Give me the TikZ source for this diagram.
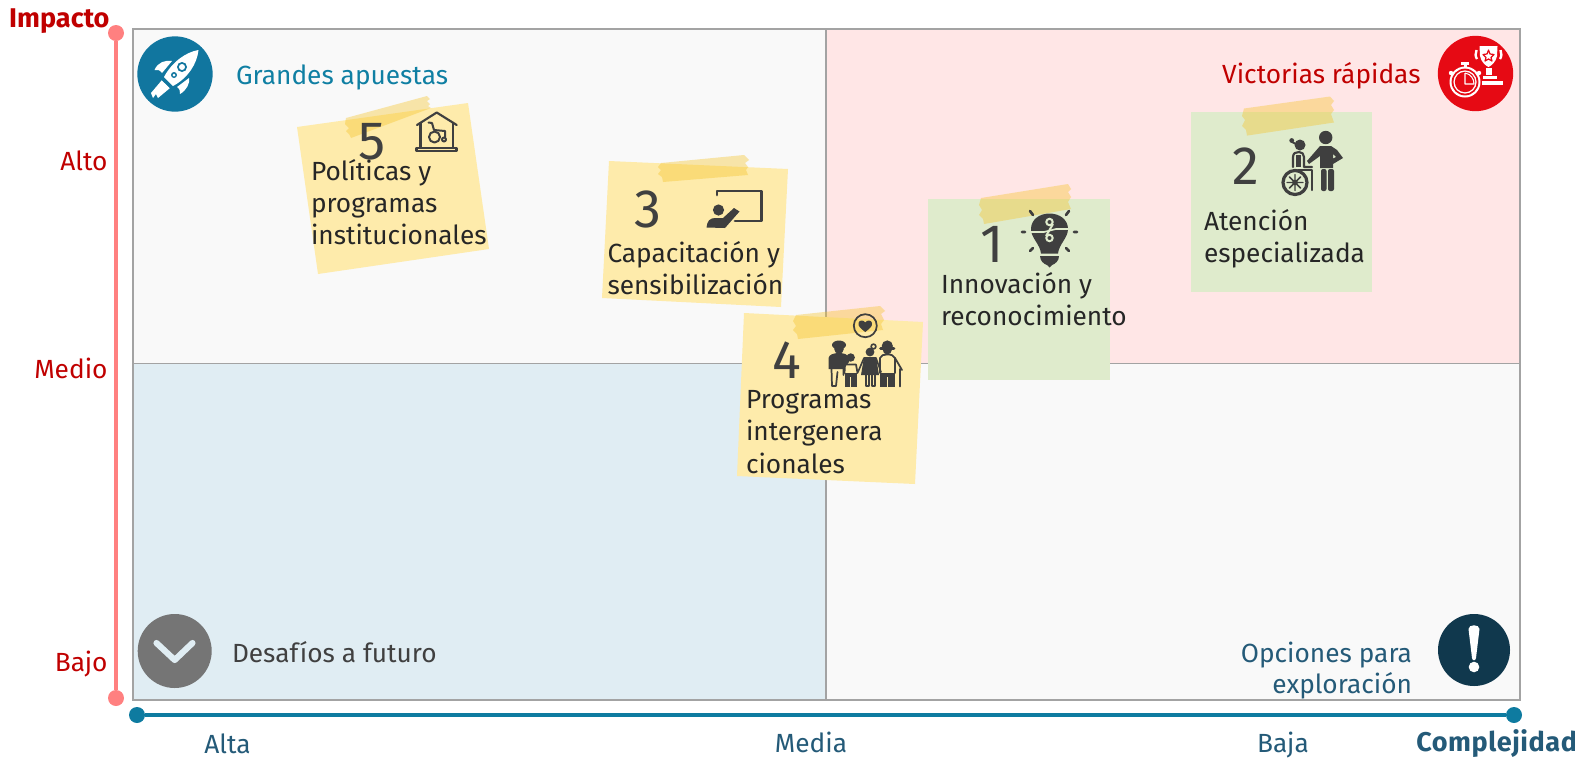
\documentclass[tikz,border=0pt]{standalone}
\usepackage{fontspec}
\setmainfont{Fira Sans}
\definecolor{frameC}{HTML}{A3A3A3}
\definecolor{qGray}{HTML}{F9F9F9}
\definecolor{qPink}{HTML}{FFE6E6}
\definecolor{qBlue}{HTML}{E0EDF3}
\definecolor{noteY}{HTML}{FEEBAB}
\definecolor{noteG}{HTML}{DFEBCC}
\definecolor{tapeC}{HTML}{F6C325}
\definecolor{axisP}{HTML}{FF8080}
\definecolor{axisB}{HTML}{0E7BA0}
\definecolor{redT}{HTML}{C00000}
\definecolor{blueT}{HTML}{245A78}
\definecolor{tealT}{HTML}{0F7FA3}
\definecolor{grayT}{HTML}{404040}
\definecolor{inkT}{HTML}{262626}
\definecolor{rocketC}{HTML}{11769F}
\definecolor{trophyC}{HTML}{E60A14}
\definecolor{chevC}{HTML}{757575}
\definecolor{exclC}{HTML}{10384D}
\definecolor{iconC}{HTML}{3F3F3F}
\tikzset{
  x=0.75pt,y=-0.75pt,
  lab/.style={inner sep=0pt,outer sep=0pt,font=\fontsize{19.7}{23}\selectfont},
  labb/.style={inner sep=0pt,outer sep=0pt,font=\fontsize{20.3}{23}\selectfont\bfseries},
  digit/.style={inner sep=0pt,outer sep=0pt,text=grayT,anchor=base west,font=\fontsize{40.5}{44}\selectfont},
  notetext/.style={lab,text=inkT,anchor=base west},
  tape/.style={fill=tapeC,fill opacity=.38},
  icon/.style={fill=iconC},
  iconl/.style={draw=iconC,line width=1.7pt,line cap=round,line join=round},
  wl/.style={draw=white,line cap=round,line join=round},
}
\begin{document}
\begin{tikzpicture}
\useasboundingbox (0,0) rectangle (1575,758);
% quadrants
\fill[qGray] (133,29) rectangle (826,363.5);
\fill[qPink] (826,29) rectangle (1520,363.5);
\fill[qBlue] (133,363.5) rectangle (826,699.5);
\fill[qGray] (826,363.5) rectangle (1520,699.5);
\draw[draw=frameC,line width=1.5pt] (133,29) rectangle (1520,699.5);
\draw[draw=frameC,line width=1.4pt] (826,29) -- (826,699.5) (133,363.5) -- (1520,363.5);
% axes
\node[circle,fill=axisP,minimum size=12pt,inner sep=0pt] (impTop) at (116,33) {};
\node[circle,fill=axisP,minimum size=12pt,inner sep=0pt] (impBot) at (116,698) {};
\draw[axisP,line width=3pt] (impTop) -- (impBot);
\node[circle,fill=axisB,minimum size=12pt,inner sep=0pt] (cplL) at (137,715) {};
\node[circle,fill=axisB,minimum size=12pt,inner sep=0pt] (cplR) at (1514,715) {};
\draw[axisB,line width=3pt] (cplL) -- (cplR);
% axis labels
\node[labb,anchor=base east,text=redT] (impacto) at (109.5,27) {Impacto};
\node[lab,anchor=base east,text=redT] (alto) at (107.5,170) {Alto};
\node[lab,anchor=base east,text=redT] (medio) at (107.5,378) {Medio};
\node[lab,anchor=base east,text=redT] (bajo) at (107.5,671) {Bajo};
\node[lab,anchor=base,text=blueT] (alta) at (227.5,753) {Alta};
\node[lab,anchor=base,text=blueT] (media) at (811,752) {Media};
\node[lab,anchor=base,text=blueT] (baja) at (1283,752) {Baja};
\node[labb,anchor=base east,text=blueT] (compl) at (1577,751) {\addfontfeature{LetterSpace=2}Complejidad};
% quadrant titles
\node[lab,anchor=base west,text=tealT] (ga) at (236,84) {Grandes apuestas};
\node[lab,anchor=base east,text=redT] (vr) at (1420.5,83) {Victorias rápidas};
\node[lab,anchor=base west,text=grayT] (df) at (232,662) {Desafíos a futuro};
\node[lab,anchor=base east,text=blueT] (op1) at (1412,662) {Opciones para};
\node[lab,anchor=base east,text=blueT] (op2) at (1412,693) {exploración};
% quadrant badges
\node[circle,fill=rocketC,minimum size=56.5pt,inner sep=0pt] (rocket) at (175,74) {};
\node[circle,fill=trophyC,minimum size=56.5pt,inner sep=0pt] (trophy) at (1475.5,73.5) {};
\node[circle,fill=chevC,minimum size=55.5pt,inner sep=0pt] (chev) at (174.7,651) {};
\node[circle,fill=exclC,minimum size=54pt,inner sep=0pt] (excl) at (1474,650) {};
% rocket
\fill[white] (198.5,50) .. controls (186,52) and (172,62) .. (164,77) -- (173,86) .. controls (188,78) and (197,64) .. (198.5,50) -- cycle;
\fill[rocketC] (182,67) circle (5);
\fill[white] (182,67) circle (3);
\fill[rocketC] (174,75) circle (3);
\fill[white] (174,75) circle (1.5);
\fill[white] (154.5,70) .. controls (158,62) and (165,60) .. (172,61) -- (162,73) .. controls (160,70) and (157,69) .. (154.5,70) -- cycle;
\fill[white] (180,94) .. controls (187,90) and (190,83) .. (189,78) -- (177,87) .. controls (180,89) and (180,91) .. (180,94) -- cycle;
\fill[white] (151,93) -- (162,80) -- (170,88) -- (158,98) -- (156,94) -- (153,98) -- cycle;
\draw[rocketC,line width=1pt] (161.5,79) -- (171.5,88.5);
% trophy / stopwatch
\fill[white] (1465,82) circle (15.5);
\fill[trophyC] (1465,82) circle (13.4);
\fill[white] (1465,82) circle (11.6);
\fill[trophyC] (1465,82) circle (10.2);
\fill[white] (1461,62) rectangle (1469,64.5);
\fill[white] (1463.5,64) rectangle (1466.5,68);
\fill[white] (1451,73) circle (2.2);
\fill[white] (1479,73) circle (2.2);
\draw[white,line width=.8pt,line join=round] (1465,73) -- (1465,84) -- (1474,84) .. controls (1474,79) and (1471,74) .. (1465,73);
\fill[white] (1479.5,46) -- (1497.5,46) -- (1497,56) .. controls (1496,62) and (1491,66) .. (1488.5,67) .. controls (1486,66) and (1481,62) .. (1480,56) -- cycle;
\draw[white,line width=1.8pt] (1476.5,50) .. controls (1475,53) and (1475.5,57) .. (1477,59);
\draw[white,line width=1.8pt] (1500.5,50) .. controls (1502,53) and (1501.5,57) .. (1500,59);
\draw[trophyC,line width=.9pt,line join=round] (1488.5,50) -- (1490,54) -- (1494,54.5) -- (1491,57.5) -- (1492,61) -- (1488.5,59) -- (1485,61) -- (1486,57.5) -- (1483,54.5) -- (1487,54) -- cycle;
\fill[white] (1486,68) rectangle (1491.5,75);
\fill[white] (1483,76) rectangle (1497,79);
\fill[white] (1482,80.5) rectangle (1503,85);
% chevron
\draw[wl,draw=qBlue,line width=4.6pt] (156.5,643) -- (174.7,660) -- (192.5,643);
% exclamation
\fill[white] (1468.5,629) .. controls (1468.5,624) and (1479.5,624) .. (1479.5,629) -- (1476,658) .. controls (1475.5,661) and (1472.5,661) .. (1472,658) -- cycle;
\fill[white] (1474,667) circle (5.3);
% notes
\fill[noteG] (928,199) rectangle (1110,380);
\fill[noteG] (1191,111.5) rectangle (1372,292);
\fill[noteY] (297,127) -- (468,103) -- (489,249) -- (318,274) -- cycle;
\fill[noteY] (609,161) -- (788,169) -- (781,307) -- (602,298) -- cycle;
\fill[noteY] (744,313) -- (923,322) -- (915,484) -- (737,476) -- cycle;
% tapes
\fill[tape] (346,118) -- (427,96) -- (430,99) -- (427,101) -- (430,104) -- (428,106) -- (431,108) -- (351,138) -- (349,134) -- (346,131) -- (349,128) -- (345,124) -- cycle;
\fill[tape] (661,163) -- (744,155) -- (749,160) -- (745,163) -- (748,167) -- (746,170) -- (748,175) -- (663,182) -- (662,177) -- (658,174) -- (661,170) -- (658,167) -- cycle;
\fill[tape] (796,315) -- (880,306) -- (885,311) -- (881,314) -- (884,320) -- (881,324) -- (883,330) -- (798,339) -- (797,334) -- (793,330) -- (796,326) -- (793,321) -- cycle;
\fill[tape] (981,198) -- (1068,184) -- (1071,189) -- (1068,192) -- (1071,197) -- (1068,202) -- (1071,209) -- (984,224) -- (983,219) -- (979,215) -- (982,210) -- (979,205) -- cycle;
\fill[tape] (1244,108.5) -- (1330,96.5) -- (1334,101) -- (1331,105) -- (1334,110) -- (1331,114) -- (1334,122.5) -- (1247,135.6) -- (1246,130) -- (1242,126) -- (1245,120) -- (1242,116) -- cycle;
% note digits
\node[digit] (d5) at (358,159) {5};
\node[digit] (d3) at (634,227) {3};
\node[digit] (d4) at (772,378) {4};
\node[digit] (d1) at (980,262) {1};
\node[digit] (d2) at (1232,184) {2};
% note texts
\node[notetext] (t5a) at (311,180) {Políticas y};
\node[notetext] (t5b) at (311,212) {programas};
\node[notetext] (t5c) at (311,244) {institucionales};
\node[notetext] (t3a) at (607.5,262) {Capacitación y};
\node[notetext] (t3b) at (607.5,294) {sensibilización};
\node[notetext] (t4a) at (746,408) {Programas};
\node[notetext] (t4b) at (746,440) {intergenera};
\node[notetext] (t4c) at (746,473) {cionales};
\node[notetext] (t1a) at (941,293) {Innovación y};
\node[notetext] (t1b) at (941,325) {reconocimiento};
\node[notetext] (t2a) at (1204,230) {Atención};
\node[notetext] (t2b) at (1204,262) {especializada};
% icon 5: house with wheelchair
\draw[iconl,line width=1.6pt] (417,125) -- (436.7,112.5) -- (456.7,125);
\draw[iconl,line width=1.6pt] (420.5,123) -- (420.5,147) (453,123) -- (453,147);
\draw[iconl,line width=1.6pt] (416.5,148) rectangle (456.5,151);
\draw[iconl,line width=1.5pt] (428.5,122.5) -- (432,123) -- (434,130) -- (445,131) -- (445,137);
\draw[iconl,line width=1.5pt] (434.5,137) circle (5.5);
\draw[iconl,line width=1.5pt] (444,139.5) circle (2);
% icon 3: presenter
\draw[iconl,line width=2.2pt] (717,195) -- (717,191) -- (761.5,191) -- (761.5,221) -- (735,221);
\fill[icon] (718.5,210) circle (5.6);
\fill[icon] (706.5,227.5) .. controls (707,221) and (710,218) .. (715,218) -- (723,218) -- (734,208) -- (739.5,211.5) -- (725,228) -- cycle;
% icon 4: family
\draw[iconl,line width=1.3pt] (865.3,325.7) circle (11.5);
\fill[icon] (865.3,332) .. controls (860,328) and (858,326) .. (858.5,323) .. controls (859,320) and (863.5,319.5) .. (865.3,322.5) .. controls (867,319.5) and (871.5,320) .. (872,323) .. controls (872.5,326) and (870.5,328) .. (865.3,332) -- cycle;
% man
\fill[icon] (839,345) ellipse (7 and 4.5);
\fill[icon] (839,349) circle (4.8);
\fill[icon] (828.5,369) -- (828.5,358) .. controls (829,354.5) and (834,353) .. (839,353) .. controls (844,353) and (848,354.5) .. (849,358) -- (849,362) -- (844,368) -- (844,369) -- cycle;
\draw[iconl,line width=1.3pt] (831.5,369) -- (832,386) -- (836,386) -- (837.5,372) (843.5,369) -- (843.5,375);
% child
\fill[icon] (850.7,357.5) circle (4.2);
\draw[iconl,line width=1.3pt] (844.5,373) -- (845,364.5) -- (856,364.5) -- (857.5,373);
\fill[icon] (844.5,373) rectangle (857,386.5);
\draw[noteY,line width=.8pt] (850.7,377) -- (850.7,387);
% woman
\fill[icon] (870,352) circle (4.4);
\draw[iconl,line width=1.2pt] (873.5,346.5) circle (2.4);
\fill[icon] (864,357) -- (876,357) -- (879,375) -- (861,375) -- cycle;
\draw[iconl,line width=1.2pt] (866,375) -- (866,386) -- (869,386) -- (869,375) (872,375) -- (872,386) -- (875,386) -- (875,375);
\draw[iconl,line width=1.2pt] (864,358) -- (858,372) (876,358) -- (881,372);
% grandfather
\fill[icon] (887.3,346) circle (5.6);
\fill[icon] (887.3,350) circle (4.5);
\draw[iconl,line width=2pt] (880.5,348.5) -- (894,348.5);
\draw[iconl,line width=1.3pt] (880,373) -- (880,358) .. controls (881,355) and (884,354.5) .. (887,354.5) .. controls (891,354.5) and (893.5,355) .. (895,358) -- (902,370);
\fill[icon] (879.5,373) rectangle (895,386.5);
\draw[noteY,line width=.8pt] (887.3,377) -- (887.3,387);
\draw[iconl,line width=1.2pt] (895,358) -- (895,373) (900,369) -- (900,386.5);
% icon 1: bulb
\fill[icon] (1049.5,213.5) .. controls (1060,213.5) and (1068,220) .. (1068,229) .. controls (1068,238) and (1059,244) .. (1058,253.5) -- (1041,253.5) .. controls (1040,244) and (1031,238) .. (1031,229) .. controls (1031,220) and (1039,213.5) .. (1049.5,213.5) -- cycle;
\fill[icon] (1040,256) -- (1059,256) .. controls (1059,261) and (1055,264) .. (1052,265) -- (1049.5,267.5) -- (1047,265) .. controls (1044,264) and (1040,261) .. (1040,256) -- cycle;
\draw[draw=noteG,line width=1.2pt] (1031,232) -- (1044,232) -- (1056,229) -- (1068,229);
\draw[draw=noteG,line width=1.5pt] (1049.5,222) circle (3.2) (1049.5,238) circle (3.2);
\draw[draw=noteG,line width=1.5pt] (1053,224) -- (1046,236);
\draw[iconl,line width=2pt] (1030,211) -- (1033,215) (1069,211) -- (1066,215) (1022,232) -- (1025,232) (1074,232) -- (1077,232) (1030,251) -- (1033,248) (1069,251) -- (1066,248);
% icon 2: wheelchair and carer
\fill[icon] (1300,145) circle (5.5);
\fill[icon] (1291.7,140.5) circle (2.4);
\draw[iconl,line width=1.4pt] (1292,142) -- (1296,144);
\draw[iconl,line width=1.6pt] (1293,167) -- (1293,157) .. controls (1293,153) and (1296,152) .. (1299,152) .. controls (1302,152) and (1304,154) .. (1304,157) -- (1304,167) -- (1312,167);
\fill[icon] (1296,155) rectangle (1301,167);
\draw[iconl,line width=1.8pt] (1298,170) -- (1312,170) -- (1312,190);
\draw[iconl,line width=2.4pt] (1295,182.5) circle (12);
\draw[iconl,line width=1.1pt] (1287,182.5) -- (1303,182.5) (1295,174.5) -- (1295,190.5) (1289.5,177) -- (1300.5,188) (1289.5,188) -- (1300.5,177);
\fill[icon] (1295,182.5) circle (2.8);
\fill[icon] (1325.7,137.5) circle (6.7);
\fill[icon] (1320,146) -- (1331,146) -- (1337,150) -- (1343,158) -- (1333,164) -- (1330,160) -- (1336,157) -- (1333,154) -- (1333,168) -- (1320,168) -- (1320,156) -- (1309,164) -- (1307,161) -- cycle;
\fill[icon,rounded corners=1.5pt] (1321,169) rectangle (1326.5,191);
\fill[icon,rounded corners=1.5pt] (1328,169) rectangle (1334,191);
\end{tikzpicture}
\end{document}
